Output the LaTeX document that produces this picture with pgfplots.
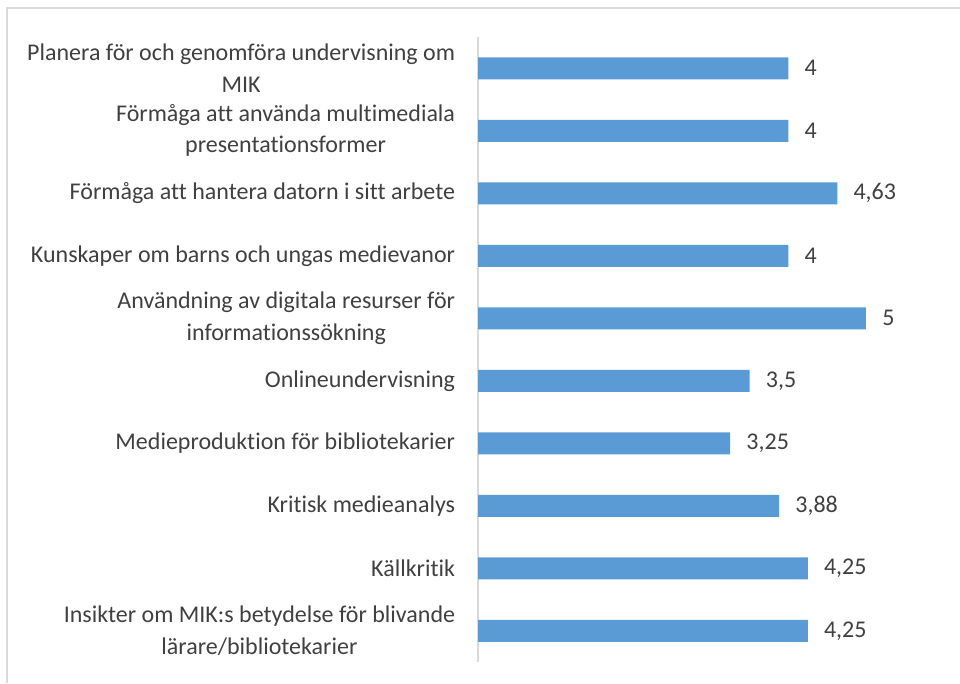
\documentclass[border=0pt]{standalone}
\usepackage{pgfplots}
\pgfplotsset{compat=1.18}
\usepackage{fontspec}
\setmainfont[Ligatures=NoCommon]{Carlito}
\definecolor{barblue}{HTML}{5B9BD5}
\definecolor{txtgray}{HTML}{404040}
\definecolor{framegray}{HTML}{D9D9D9}
\begin{document}
\begin{tikzpicture}
\useasboundingbox (0,0) rectangle (720pt,512.25pt);
% frame of the chart area (cut at right and bottom)
\draw[framegray, line width=1pt] (5.25pt,0) -- (5.25pt,506.25pt) -- (720pt,506.25pt);
\begin{axis}[
    at={(358.5pt,15.75pt)},
    anchor=south west,
    scale only axis,
    width=349.2pt,
    height=468.75pt,
    xbar,
    bar width=16.5pt,
    xmin=0, xmax=6,
    ymin=-0.5, ymax=9.5,
    y dir=reverse,
    axis x line=none,
    axis y line*=left,
    y axis line style={framegray, line width=0.9pt, -},
    ytick={0,...,9},
    major tick length=0pt,
    yticklabels={
        {Planera för och genomföra undervisning om\\MIK},
        {Förmåga att använda multimediala\\presentationsformer},
        {Förmåga att hantera datorn i sitt arbete},
        {Kunskaper om barns och ungas medievanor},
        {Användning av digitala resurser för\\informationssökning},
        {Onlineundervisning},
        {Medieproduktion för bibliotekarier},
        {Kritisk medieanalys},
        {Källkritik},
        {Insikter om MIK:s betydelse för blivande\\lärare/bibliotekarier}
    },
    yticklabel style={align=center, anchor=east, inner sep=0pt, xshift=-17pt,
        text=txtgray, font=\fontsize{18}{23.5}\selectfont},
    /pgf/number format/assume math mode=true,
    nodes near coords={\pgfmathprintnumber[use comma, assume math mode=true]{\pgfplotspointmeta}},
    nodes near coords style={anchor=west, inner sep=0pt, xshift=12pt,
        text=txtgray, font=\fontsize{18}{23.5}\selectfont},
    point meta=x,
    clip=false,
]
\addplot[fill=barblue, draw=none] coordinates {
    (4,0) (4,1) (4.63,2) (4,3) (5,4) (3.5,5) (3.25,6) (3.88,7) (4.25,8) (4.25,9)
};
\end{axis}
\end{tikzpicture}
\end{document}
